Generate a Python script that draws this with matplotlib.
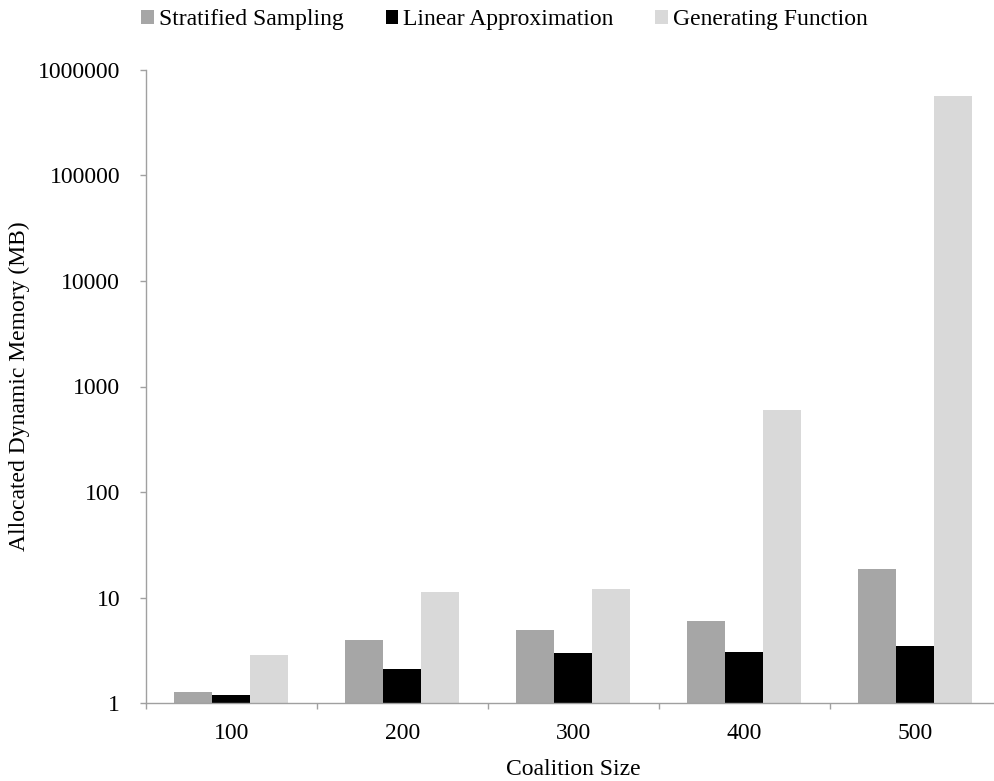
import matplotlib
matplotlib.use("Agg")
import matplotlib.pyplot as plt
import numpy as np
from matplotlib.ticker import FixedLocator, NullLocator, FixedFormatter

categories = ["100", "200", "300", "400", "500"]
stratified = [1.27, 3.97, 4.94, 6.0, 18.6]
linear = [1.19, 2.11, 2.97, 3.06, 3.49]
generating = [2.89, 11.3, 12.0, 599, 560000]
series_names = ["Stratified Sampling", "Linear Approximation", "Generating Function"]
colors = ["#A6A6A6", "#000000", "#D9D9D9"]
y_ticks = [1, 10, 100, 1000, 10000, 100000, 1000000]

plt.rcParams['font.family'] = ['Liberation Serif', 'DejaVu Serif']

W, H = 995, 781
FS = 17
fig = plt.figure(figsize=(W / 100, H / 100), dpi=100)
left, right = 145.7, 1000.7
top, bottom = 69.7, 703.3
ax = fig.add_axes([left / W, (H - bottom) / H, (right - left) / W, (bottom - top) / H])

x = np.arange(len(categories))
bw = 0.222
for i, (vals, name, c) in enumerate(zip([stratified, linear, generating], series_names, colors)):
    ax.bar(x + (i - 1) * bw, vals, width=bw, color=c, label=name, bottom=0)

ax.set_yscale('log')
ax.set_ylim(1, 1000000)
ax.set_xlim(-0.5, len(categories) - 0.5)
ax.yaxis.set_major_locator(FixedLocator(y_ticks))
ax.yaxis.set_major_formatter(FixedFormatter([str(v) for v in y_ticks]))
ax.yaxis.set_minor_locator(NullLocator())

ax.set_xticks(x)
ax.set_xticklabels(categories)
ax.set_xticks(np.arange(len(categories) + 1) - 0.5, minor=True)
ax.tick_params(axis='x', which='major', length=0, pad=14, labelsize=FS)
ax.tick_params(axis='x', which='minor', length=4.3, color='#A0A0A0', direction='out', width=1.0)
ax.tick_params(axis='y', which='major', length=4.3, color='#A0A0A0', direction='out',
               labelsize=FS, pad=14, width=1.0)

for s in ['top', 'right']:
    ax.spines[s].set_visible(False)
for s in ['left', 'bottom']:
    ax.spines[s].set_color('#A0A0A0')
    ax.spines[s].set_linewidth(1.0)

ax.set_xlabel("Coalition Size", fontsize=FS, labelpad=11)
ax.set_ylabel("Allocated Dynamic Memory (MB)", fontsize=FS, labelpad=6)

fig.legend(loc='center', bbox_to_anchor=(0.507, 1 - 20 / H), ncol=3, frameon=False,
           fontsize=FS, handlelength=0.53, handleheight=0.53, handletextpad=0.21,
           columnspacing=1.78, borderpad=0.1)

fig.savefig("out.png", dpi=100)
